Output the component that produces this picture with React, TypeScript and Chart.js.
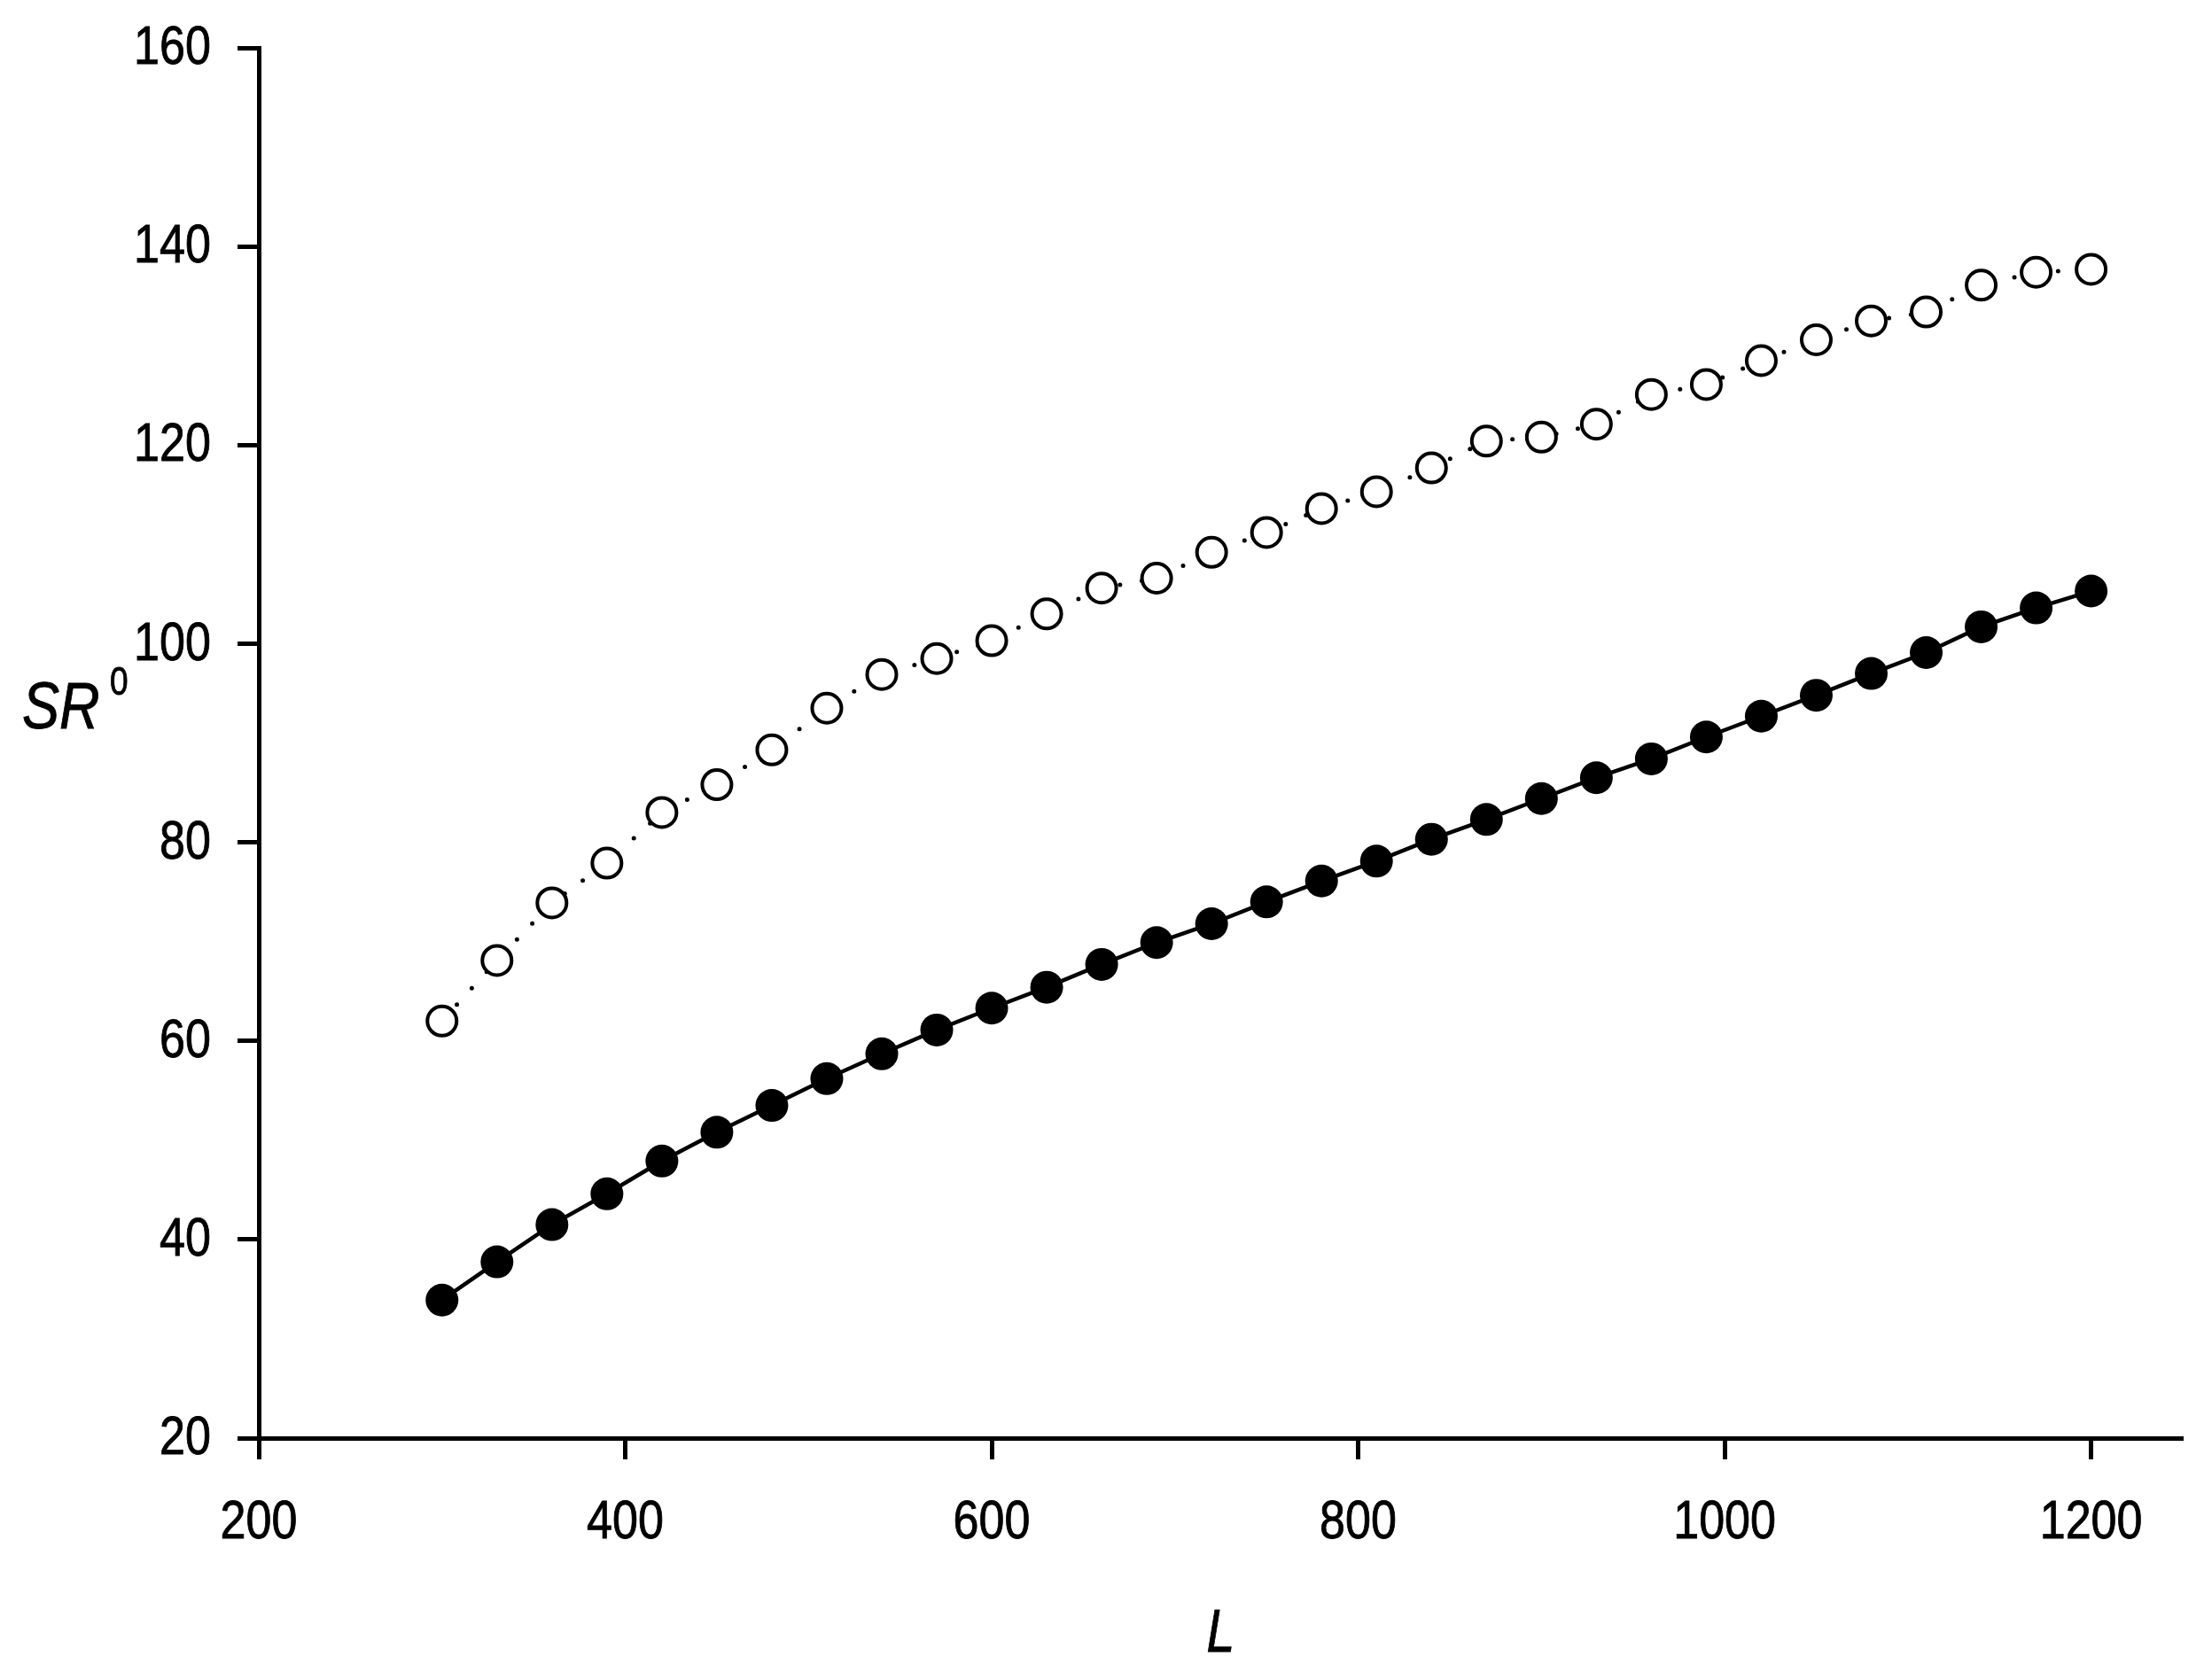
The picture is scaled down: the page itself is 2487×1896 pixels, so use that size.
import React, { useEffect, useRef } from "react";
import { Chart, registerables } from "chart.js";

Chart.register(...registerables);

const xValues = [300, 330, 360, 390, 420, 450, 480, 510, 540, 570, 600, 630, 660, 690, 720, 750, 780, 810, 840, 870, 900, 930, 960, 990, 1020, 1050, 1080, 1110, 1140, 1170, 1200];
const filledValues = [33.9, 37.75, 41.5, 44.6, 47.9, 50.8, 53.5, 56.2, 58.7, 61.1, 63.3, 65.4, 67.7, 69.9, 71.8, 74.0, 76.1, 78.1, 80.3, 82.3, 84.4, 86.5, 88.4, 90.6, 92.7, 94.8, 97.0, 99.1, 101.7, 103.6, 105.3];
const openValues = [62.0, 68.1, 73.9, 77.9, 83.0, 85.8, 89.3, 93.5, 96.9, 98.5, 100.3, 103.0, 105.6, 106.6, 109.2, 111.2, 113.6, 115.3, 117.7, 120.4, 120.8, 122.1, 125.1, 126.1, 128.5, 130.6, 132.5, 133.4, 136.1, 137.4, 137.7];
const xTickValues = [200, 400, 600, 800, 1000, 1200];
const yTickValues = [20, 40, 60, 80, 100, 120, 140, 160];
const xTickLabels = ["200", "400", "600", "800", "1000", "1200"];
const yTickLabels = ["20", "40", "60", "80", "100", "120", "140", "160"];
const xTitle = "L";
const yTitleMain = "SR";
const yTitleSup = "0";

const FONT = "'Liberation Sans', Arial, sans-serif";
const SQUEEZE = 0.84;

function squeezedText(ctx: CanvasRenderingContext2D, text: string, x: number, y: number) {
  ctx.save();
  ctx.translate(x, y);
  ctx.scale(SQUEEZE, 1);
  ctx.lineWidth = 0.9;
  ctx.strokeStyle = "#000";
  ctx.strokeText(text, 0, 0);
  ctx.fillText(text, 0, 0);
  ctx.restore();
}

export default function App() {
  const ref = useRef<HTMLCanvasElement | null>(null);

  useEffect(() => {
    const canvas = ref.current;
    if (!canvas) return;

    const textPlugin = {
      id: "axisTexts",
      afterDraw(chart: any) {
        const ctx: CanvasRenderingContext2D = chart.ctx;
        const area = chart.chartArea;
        const xs = chart.scales.x;
        const ys = chart.scales.y;
        ctx.save();
        ctx.fillStyle = "#000";

        // y tick labels
        ctx.font = `62px ${FONT}`;
        ctx.textAlign = "right";
        ctx.textBaseline = "middle";
        yTickValues.forEach((v, i) => {
          squeezedText(ctx, yTickLabels[i], area.left - 24 - 30, ys.getPixelForValue(v) + 1);
        });

        // x tick labels
        ctx.textAlign = "center";
        ctx.textBaseline = "alphabetic";
        xTickValues.forEach((v, i) => {
          squeezedText(ctx, xTickLabels[i], xs.getPixelForValue(v), 1736);
        });

        // x title
        ctx.font = `italic 68px ${FONT}`;
        ctx.textAlign = "center";
        squeezedText(ctx, xTitle, (area.left + area.right) / 2, 1864);

        // y title
        ctx.textAlign = "left";
        ctx.font = `italic 75px ${FONT}`;
        squeezedText(ctx, yTitleMain, 25, 822);
        ctx.font = `44px ${FONT}`;
        squeezedText(ctx, yTitleSup, 124, 784);
        ctx.restore();
      },
    };

    const chart = new Chart(canvas, {
      type: "line",
      data: {
        datasets: [
          {
            label: "open",
            data: xValues.map((x, i) => ({ x, y: openValues[i] })),
            borderColor: "#000",
            borderWidth: 5,
            borderDash: [0, 25],
            borderCapStyle: "round",
            pointRadius: 16.5,
            pointBorderWidth: 4,
            pointBackgroundColor: "#fff",
            pointBorderColor: "#000",
            tension: 0,
            fill: false,
          },
          {
            label: "filled",
            data: xValues.map((x, i) => ({ x, y: filledValues[i] })),
            borderColor: "#000",
            borderWidth: 4.5,
            pointRadius: 18.5,
            pointBorderWidth: 0,
            pointBackgroundColor: "#000",
            pointBorderColor: "#000",
            tension: 0,
            fill: false,
          },
        ],
      },
      options: {
        animation: false,
        responsive: false,
        devicePixelRatio: 1,
        layout: { padding: { top: 54, right: 24, left: 0, bottom: 0 } },
        plugins: {
          legend: { display: false },
          tooltip: { enabled: false },
        },
        scales: {
          x: {
            type: "linear",
            min: 200,
            max: 1250,
            afterFit: (scale: any) => {
              scale.height = 273;
            },
            afterBuildTicks: (scale: any) => {
              scale.ticks = xTickValues.map((v) => ({ value: v }));
            },
            ticks: { display: false, includeBounds: false },
            grid: {
              drawOnChartArea: false,
              drawTicks: true,
              tickLength: 24,
              tickWidth: 5,
              tickColor: "#000",
            },
            border: { display: true, color: "#000", width: 5 },
          },
          y: {
            type: "linear",
            min: 20,
            max: 160,
            afterFit: (scale: any) => {
              scale.width = 292;
            },
            afterBuildTicks: (scale: any) => {
              scale.ticks = yTickValues.map((v) => ({ value: v }));
            },
            ticks: { display: false },
            grid: {
              drawOnChartArea: false,
              drawTicks: true,
              tickLength: 24,
              tickWidth: 5,
              tickColor: "#000",
            },
            border: { display: true, color: "#000", width: 5 },
          },
        },
      },
      plugins: [textPlugin],
    } as any);

    return () => {
      chart.destroy();
    };
  }, []);

  return (
    <canvas
      ref={ref}
      width={2487}
      height={1896}
      style={{ position: "absolute", left: 0, top: 0, width: 2487, height: 1896, background: "#fff" }}
    />
  );
}
